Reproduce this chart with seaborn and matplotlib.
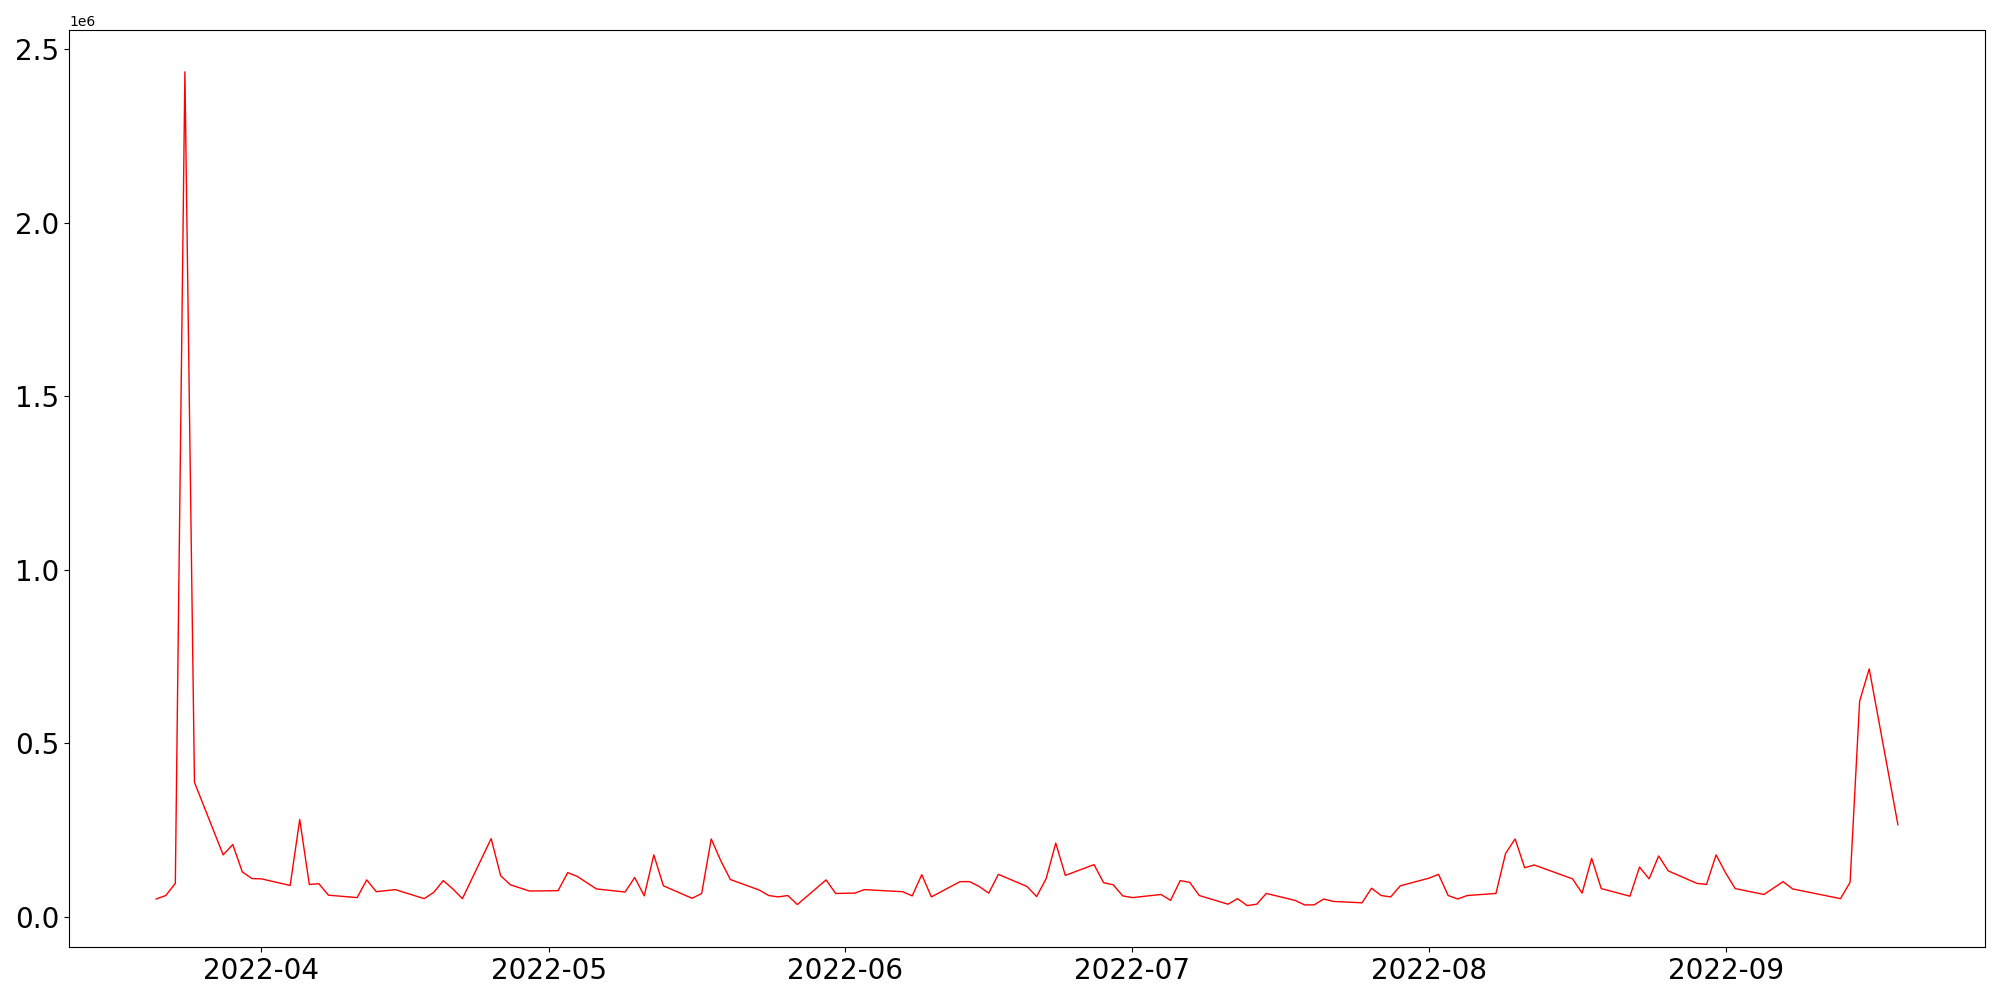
import matplotlib
matplotlib.use("Agg")
import matplotlib.pyplot as plt
import pandas as pd
import seaborn as sns

# dates of the visible points (business days, some days missing)
dates = [
    "2022-03-21", "2022-03-22", "2022-03-23", "2022-03-24", "2022-03-25",
    "2022-03-28", "2022-03-29", "2022-03-30", "2022-03-31", "2022-04-01",
    "2022-04-04", "2022-04-05", "2022-04-06", "2022-04-07", "2022-04-08",
    "2022-04-11", "2022-04-12", "2022-04-13", "2022-04-15",
    "2022-04-18", "2022-04-19", "2022-04-20", "2022-04-21", "2022-04-22",
    "2022-04-25", "2022-04-26", "2022-04-27", "2022-04-29",
    "2022-05-02", "2022-05-03", "2022-05-04", "2022-05-06",
    "2022-05-09", "2022-05-10", "2022-05-11", "2022-05-12", "2022-05-13",
    "2022-05-16", "2022-05-17", "2022-05-18", "2022-05-19", "2022-05-20",
    "2022-05-23", "2022-05-24", "2022-05-25", "2022-05-26", "2022-05-27",
    "2022-05-30", "2022-05-31", "2022-06-02", "2022-06-03",
    "2022-06-07", "2022-06-08", "2022-06-09", "2022-06-10",
    "2022-06-13", "2022-06-14", "2022-06-15", "2022-06-16", "2022-06-17",
    "2022-06-20", "2022-06-21", "2022-06-22", "2022-06-23", "2022-06-24",
    "2022-06-27", "2022-06-28", "2022-06-29", "2022-06-30", "2022-07-01",
    "2022-07-04", "2022-07-05", "2022-07-06", "2022-07-07", "2022-07-08",
    "2022-07-11", "2022-07-12", "2022-07-13", "2022-07-14", "2022-07-15",
    "2022-07-18", "2022-07-19", "2022-07-20", "2022-07-21", "2022-07-22",
    "2022-07-25", "2022-07-26", "2022-07-27", "2022-07-28", "2022-07-29",
    "2022-08-01", "2022-08-02", "2022-08-03", "2022-08-04", "2022-08-05",
    "2022-08-08", "2022-08-09", "2022-08-10", "2022-08-11", "2022-08-12",
    "2022-08-16", "2022-08-17", "2022-08-18", "2022-08-19",
    "2022-08-22", "2022-08-23", "2022-08-24", "2022-08-25", "2022-08-26",
    "2022-08-29", "2022-08-30", "2022-08-31", "2022-09-01", "2022-09-02",
    "2022-09-05", "2022-09-07", "2022-09-08",
    "2022-09-13", "2022-09-14", "2022-09-15", "2022-09-16",
    "2022-09-19",
]

# values in millions
values_m = [
    0.052, 0.062, 0.097, 2.435, 0.388,
    0.179, 0.209, 0.130, 0.111, 0.110,
    0.091, 0.281, 0.094, 0.096, 0.063,
    0.056, 0.107, 0.073, 0.079,
    0.053, 0.071, 0.105, 0.081, 0.053,
    0.226, 0.119, 0.093, 0.075,
    0.076, 0.128, 0.117, 0.081,
    0.072, 0.114, 0.061, 0.179, 0.090,
    0.054, 0.068, 0.225, 0.162, 0.108,
    0.078, 0.062, 0.058, 0.062, 0.036,
    0.107, 0.068, 0.069, 0.079,
    0.073, 0.061, 0.122, 0.058,
    0.102, 0.102, 0.088, 0.069, 0.123,
    0.088, 0.059, 0.111, 0.213, 0.120,
    0.151, 0.099, 0.093, 0.061, 0.056,
    0.065, 0.048, 0.105, 0.100, 0.062,
    0.037, 0.053, 0.033, 0.037, 0.068,
    0.048, 0.035, 0.035, 0.052, 0.045,
    0.041, 0.083, 0.062, 0.058, 0.090,
    0.112, 0.123, 0.062, 0.052, 0.062,
    0.068, 0.183, 0.225, 0.142, 0.150,
    0.110, 0.069, 0.169, 0.082,
    0.060, 0.144, 0.110, 0.176, 0.133,
    0.097, 0.094, 0.179, 0.127, 0.082,
    0.065, 0.102, 0.081,
    0.053, 0.100, 0.622, 0.715,
    0.266,
]

df = pd.DataFrame({"date": pd.to_datetime(dates), "value": [v * 1e6 for v in values_m]})

fig, ax = plt.subplots(figsize=(20, 10), dpi=100)
sns.lineplot(x="date", y="value", data=df, color="red", linewidth=1, ax=ax)
ax.set_xlabel("")
ax.set_ylabel("")
ax.tick_params(axis="both", labelsize=20)

plt.tight_layout()
plt.savefig("out.png")
